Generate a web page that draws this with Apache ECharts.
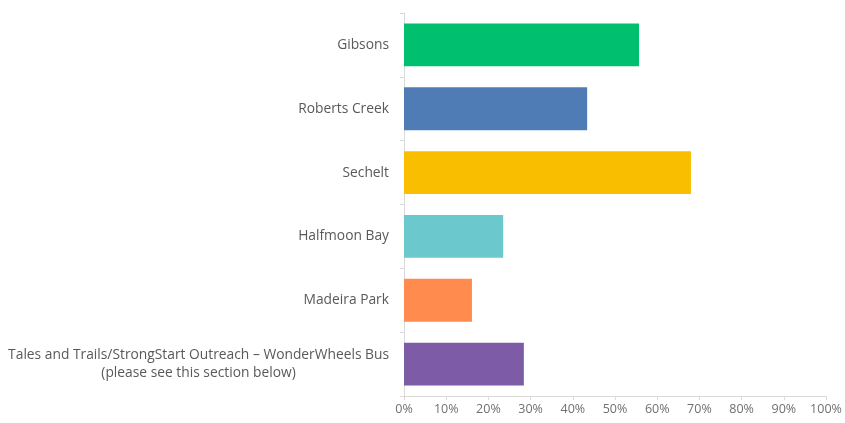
<!DOCTYPE html>
<html><head><meta charset="utf-8">
<script src="https://cdn.jsdelivr.net/npm/echarts@6/dist/echarts.min.js"></script>
<style>html,body{margin:0;padding:0;background:#fff}#c{width:845px;height:423px}</style>
</head><body><div id="c"></div>
<script>
const categories = ["Gibsons","Roberts Creek","Sechelt","Halfmoon Bay","Madeira Park","Tales and Trails/StrongStart Outreach – WonderWheels Bus\n(please see this section below)"];
const values = [55.7, 43.4, 68.0, 23.5, 16.1, 28.4];
const colors = ["#00bf6f","#507cb6","#f9be00","#6bc8cd","#ff8b4f","#7d5ba6"];
const xTicks = [0,10,20,30,40,50,60,70,80,90,100];

const chart = echarts.init(document.getElementById('c'));
chart.setOption({
  animation:false,
  grid:{left:404,right:19,top:13,bottom:27,containLabel:false},
  xAxis:{type:'value',min:xTicks[0],max:xTicks[xTicks.length-1],interval:xTicks[1]-xTicks[0],
    axisLine:{show:true,lineStyle:{color:'#d9d9d9'}},
    axisTick:{show:true,length:4,lineStyle:{color:'#d9d9d9'}},
    splitLine:{show:false},
    axisLabel:{color:'#707070',fontFamily:'Open Sans',fontSize:12.5,margin:7,formatter:v=>v+'%'}},
  yAxis:{type:'category',data:categories,inverse:true,
    axisLine:{show:true,lineStyle:{color:'#d9d9d9'}},
    axisTick:{show:true,length:4,lineStyle:{color:'#d9d9d9'}},
    axisLabel:{color:'#595959',fontFamily:'Open Sans',fontSize:13.8,margin:15,
      formatter:function(v){return v.split('\n').map(s=>'{c|'+s+'}').join('\n');},
      rich:{c:{align:'center',color:'#595959',fontFamily:'Open Sans',fontSize:13.8,lineHeight:18}}}},
  series:[{type:'bar',barCategoryGap:'33%',
    data:values.map((v,i)=>({value:v,itemStyle:{color:colors[i]}}))}]
});
</script></body></html>
